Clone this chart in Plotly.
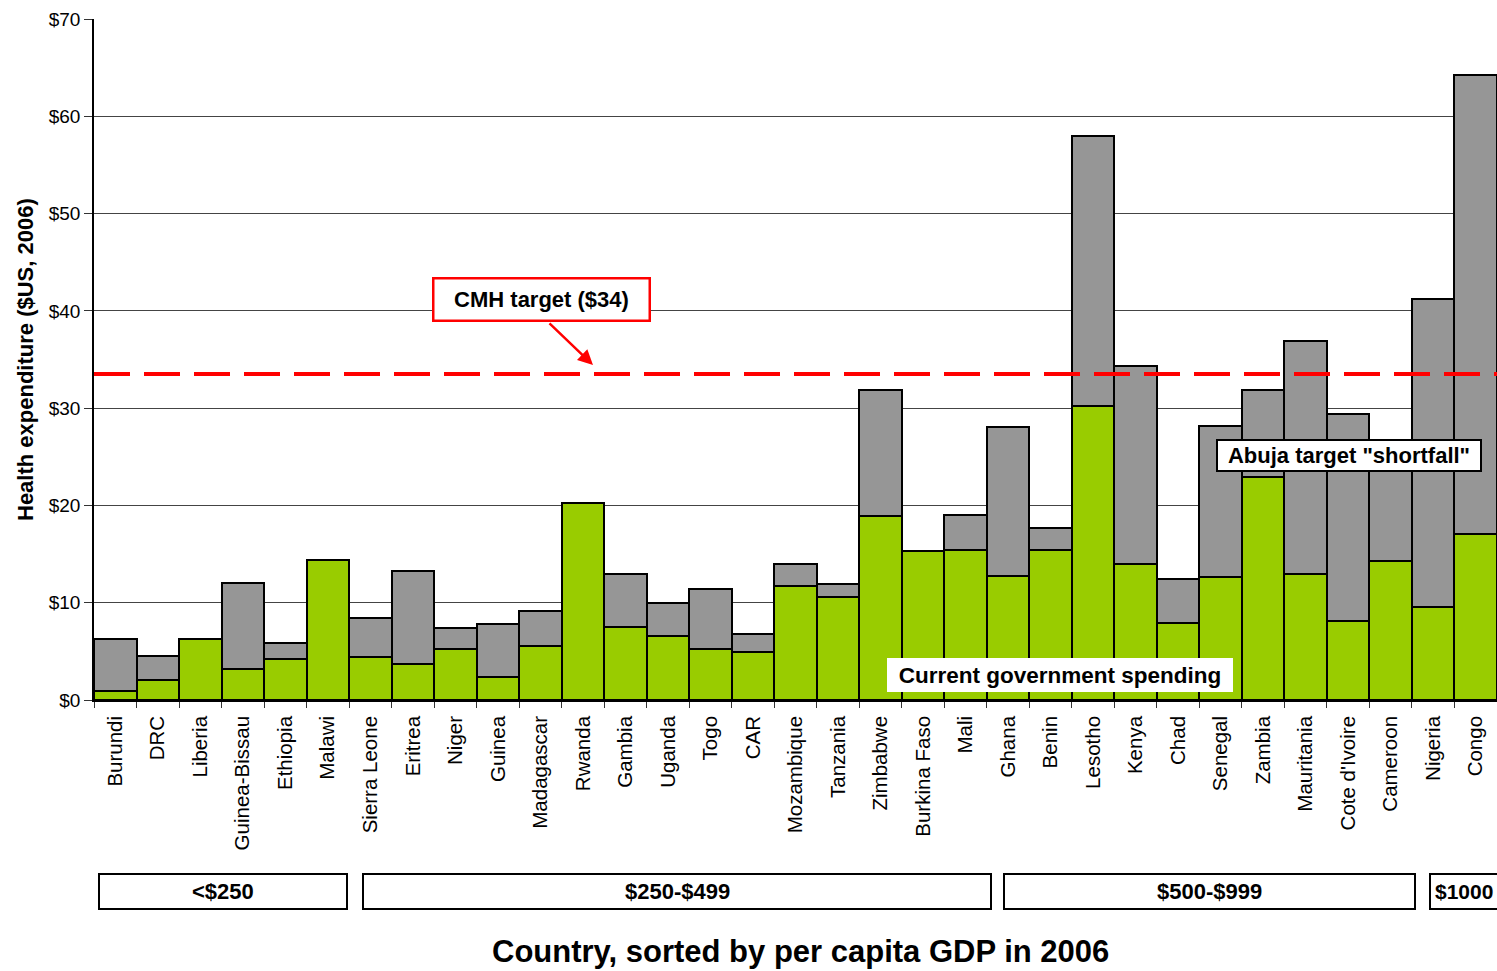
import plotly.graph_objects as go

countries = ["Burundi", "DRC", "Liberia", "Guinea-Bissau", "Ethiopia", "Malawi",
             "Sierra Leone", "Eritrea", "Niger", "Guinea", "Madagascar", "Rwanda",
             "Gambia", "Uganda", "Togo", "CAR", "Mozambique", "Tanzania", "Zimbabwe",
             "Burkina Faso", "Mali", "Ghana", "Benin", "Lesotho", "Kenya", "Chad",
             "Senegal", "Zambia", "Mauritania", "Cote d'Ivoire", "Cameroon", "Nigeria", "Congo"]

# Current government spending (green)
gov_spending = [0.9, 2.1, 6.3, 3.2, 4.2, 14.4,
                4.4, 3.7, 5.2, 2.4, 5.6, 20.3,
                7.5, 6.6, 5.2, 4.9, 11.7, 10.6, 18.9,
                15.3, 15.4, 12.7, 15.4, 30.2, 14.0, 7.9,
                12.6, 22.9, 13.0, 8.1, 14.3, 9.6, 17.1]

# Abuja target (total bar height)
abuja_target = [6.3, 4.5, 6.3, 12.0, 5.9, 14.4,
                8.4, 13.3, 7.4, 7.8, 9.2, 20.3,
                13.0, 10.0, 11.4, 6.8, 14.0, 11.9, 31.9,
                15.3, 19.0, 28.1, 17.7, 58.0, 34.3, 12.4,
                28.2, 31.9, 36.9, 29.4, 25.0, 41.2, 64.2]

shortfall = [round(t - g, 2) for t, g in zip(abuja_target, gov_spending)]

cmh_target = 33.5
y_ticks = [0, 10, 20, 30, 40, 50, 60, 70]
y_tick_labels = ["$" + str(v) for v in y_ticks]

income_groups = ["<$250", "$250-$499", "$500-$999", "$1000"]

FONT = "Liberation Sans, Arial, sans-serif"
W, H = 1497, 971
L, R, T, B = 94, 0, 19, 271
PW = W - L - R
PH = H - T - B


def px(X):
    return (X - L) / PW


def py(Y):
    return (T + PH - Y) / PH


fig = go.Figure()
fig.add_trace(go.Bar(
    x=countries, y=gov_spending, name="Current government spending",
    marker=dict(color="#99CC00", line=dict(color="black", width=2)),
    width=1,
))
fig.add_trace(go.Bar(
    x=countries, y=shortfall, name="Abuja target shortfall",
    marker=dict(color="#969696", line=dict(color="black", width=2)),
    width=1,
))

shapes = []
# CMH target dashed line
shapes.append(dict(type="line", xref="paper", yref="y", x0=0, x1=1,
                   y0=cmh_target, y1=cmh_target,
                   line=dict(color="#FF0000", width=4, dash="36px,14px")))

# income group boxes (pixel positions)
group_boxes = [(99, 347), (363, 991), (1004, 1415), (1430, 1520)]
for (x0, x1), label in zip(group_boxes, income_groups):
    shapes.append(dict(type="rect", xref="paper", yref="paper",
                       x0=px(x0), x1=px(x1), y0=py(909), y1=py(874),
                       line=dict(color="black", width=2), fillcolor="white"))

annotations = []
for (x0, x1), label in zip(group_boxes, income_groups):
    if label == "$1000":
        annotations.append(dict(xref="paper", yref="paper", x=px(1433), y=py(891.5),
                                xanchor="left", yanchor="middle", text="<b>" + label + "</b>",
                                showarrow=False, font=dict(family=FONT, size=21, color="black")))
    else:
        annotations.append(dict(xref="paper", yref="paper", x=px((x0 + x1) / 2), y=py(891.5),
                                xanchor="center", yanchor="middle", text="<b>" + label + "</b>",
                                showarrow=False, font=dict(family=FONT, size=22, color="black")))

# CMH target label box
annotations.append(dict(xref="paper", yref="paper", x=px(541), y=py(299.5),
                        xanchor="center", yanchor="middle",
                        text="<b>CMH target ($34)</b>", showarrow=False,
                        font=dict(family=FONT, size=22, color="black"),
                        bgcolor="white", bordercolor="#FF0000", borderwidth=2.5,
                        borderpad=2, width=210, height=36))
# arrow
annotations.append(dict(xref="paper", yref="paper", x=px(593), y=py(365),
                        axref="pixel", ayref="pixel", ax=-45, ay=-43,
                        text="", showarrow=True, arrowhead=2, arrowsize=1.2,
                        arrowwidth=2.5, arrowcolor="#FF0000"))
# Current government spending label
annotations.append(dict(xref="paper", yref="paper", x=px(1060), y=py(675),
                        xanchor="center", yanchor="middle",
                        text="<b>Current government spending</b>", showarrow=False,
                        font=dict(family=FONT, size=22.5, color="black"),
                        bgcolor="white", borderwidth=0, borderpad=2, width=342, height=30))
# Abuja label
annotations.append(dict(xref="paper", yref="paper", x=px(1349), y=py(455.5),
                        xanchor="center", yanchor="middle",
                        text="<b>Abuja target \"shortfall\"</b>", showarrow=False,
                        font=dict(family=FONT, size=22, color="black"),
                        bgcolor="white", bordercolor="black", borderwidth=2,
                        borderpad=2, width=258, height=25))
# x-axis title
annotations.append(dict(xref="paper", yref="paper", x=px(801), y=py(951),
                        xanchor="center", yanchor="middle",
                        text="<b>Country, sorted by per capita GDP in 2006</b>", showarrow=False,
                        font=dict(family=FONT, size=31, color="black")))
# y-axis title
annotations.append(dict(xref="paper", yref="paper", x=px(25), y=py(360),
                        xanchor="center", yanchor="middle", textangle=-90,
                        text="<b>Health expenditure ($US, 2006)</b>", showarrow=False,
                        font=dict(family=FONT, size=22, color="black")))

fig.update_layout(
    width=W, height=H,
    margin=dict(l=L, r=R, t=T, b=B, pad=0),
    barmode="stack", bargap=0,
    plot_bgcolor="white", paper_bgcolor="white",
    showlegend=False,
    shapes=shapes, annotations=annotations,
    font=dict(family=FONT, color="black"),
)
fig.update_xaxes(
    type="category", range=[-0.5, len(countries) - 0.5],
    tickangle=-90, tickfont=dict(family=FONT, size=20.5, color="black"),
    ticks="outside", tickson="boundaries", ticklen=6, tickcolor="#333",
    ticklabelstandoff=6,
    showline=True, linecolor="black", linewidth=1.5, showgrid=False,
)
fig.update_yaxes(
    range=[0, 70], tickvals=y_ticks, ticktext=y_tick_labels,
    tickfont=dict(family=FONT, size=19, color="black"),
    ticks="outside", ticklen=8, tickcolor="#333",
    showline=True, linecolor="black", linewidth=1.5,
    showgrid=True, gridcolor="#444", gridwidth=1, zeroline=False,
)

fig.write_html("out.html")
